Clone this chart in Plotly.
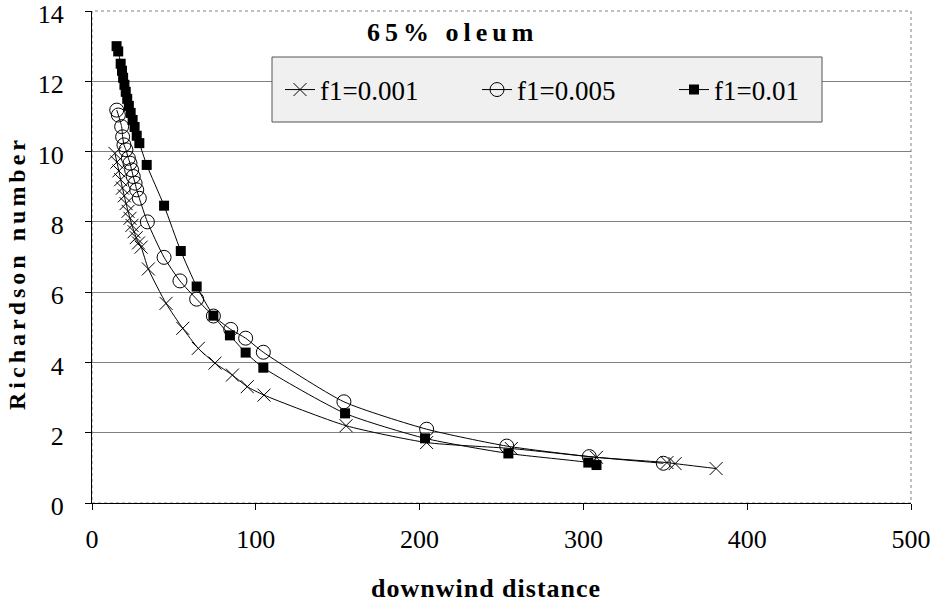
import plotly.graph_objects as go

# f1 = 0.001 (x markers)
x_001 = [14.0, 15.2, 16.4, 17.5, 18.6, 19.7, 20.8, 22.0, 23.2, 24.4, 25.7, 27.0, 28.4, 30.0,
         34.4, 45.2, 55.4, 64.9, 75.1, 85.7, 94.8, 105.0, 155.1, 204.3, 256.0, 308.0, 351.0, 356.0, 381.0]
y_001 = [9.95, 9.70, 9.45, 9.20, 8.96, 8.74, 8.52, 8.30, 8.10, 7.90, 7.72, 7.55, 7.40, 7.28,
         6.66, 5.68, 4.97, 4.40, 3.98, 3.64, 3.31, 3.07, 2.20, 1.72, 1.55, 1.30, 1.15, 1.12, 0.98]

# f1 = 0.005 (open circles)
x_005 = [15.1, 16.1, 18.1, 18.7, 19.5, 20.7, 22.2, 23.2, 24.2, 25.2, 26.3, 27.3, 28.9,
         33.8, 44.0, 53.7, 63.9, 74.1, 84.7, 93.8, 104.6, 153.8, 204.3, 253.2, 303.6, 348.8]
y_005 = [11.18, 11.04, 10.71, 10.42, 10.19, 10.05, 9.81, 9.67, 9.48, 9.29, 9.10, 8.91, 8.67,
         8.00, 6.99, 6.32, 5.80, 5.32, 4.94, 4.69, 4.29, 2.88, 2.10, 1.62, 1.32, 1.13]

# f1 = 0.01 (filled squares)
x_01 = [15.0, 16.0, 17.5, 18.3, 19.0, 19.8, 20.6, 21.5, 22.5, 23.6, 24.8, 26.0, 27.3, 28.9,
        33.4, 44.0, 54.2, 63.9, 74.1, 84.2, 93.8, 104.6, 154.5, 203.3, 254.2, 303.0, 308.0]
y_01 = [13.0, 12.85, 12.5, 12.3, 12.1, 11.9, 11.7, 11.5, 11.3, 11.1, 10.9, 10.7, 10.45, 10.24,
        9.62, 8.46, 7.17, 6.16, 5.33, 4.77, 4.28, 3.85, 2.55, 1.84, 1.41, 1.15, 1.08]

series_names = ["f1=0.001", "f1=0.005", "f1=0.01"]
x_ticks = [0, 100, 200, 300, 400, 500]
y_ticks = [0, 2, 4, 6, 8, 10, 12, 14]
chart_title = "65% oleum"
x_title = "downwind distance"
y_title = "Richardson number"

SERIF = "Liberation Serif"

fig = go.Figure()
fig.add_trace(go.Scatter(
    x=x_001, y=y_001, name=series_names[0], mode="lines+markers",
    line=dict(color="black", width=1, shape="spline", smoothing=0.6),
    marker=dict(symbol="x-thin", size=13, color="black", line=dict(color="black", width=1)),
))
fig.add_trace(go.Scatter(
    x=x_005, y=y_005, name=series_names[1], mode="lines+markers",
    line=dict(color="black", width=1, shape="spline", smoothing=0.6),
    marker=dict(symbol="circle-open", size=14, color="black", line=dict(color="black", width=1)),
))
fig.add_trace(go.Scatter(
    x=x_01, y=y_01, name=series_names[2], mode="lines+markers",
    line=dict(color="black", width=1, shape="spline", smoothing=0.6),
    marker=dict(symbol="square", size=10, color="black"),
))

# plot area in px: left 92, right 911, top 11, bottom 503 (819 x 492)
def px_x(p):
    return (p - 92) / 819.0

def px_y(p):
    return (503 - p) / 492.0

fig.update_layout(
    width=944, height=604,
    margin=dict(l=92, r=33, t=11, b=101, autoexpand=False),
    paper_bgcolor="white", plot_bgcolor="white",
    font=dict(family=SERIF, color="black", size=24),
    showlegend=True,
    legend=dict(
        orientation="h", x=px_x(280), y=px_y(90), xanchor="left", yanchor="middle",
        bgcolor="rgba(0,0,0,0)", borderwidth=0,
        font=dict(family=SERIF, size=27, color="black"),
        entrywidth=152, itemwidth=30, tracegroupgap=0,
    ),
    annotations=[
        dict(text="<b><span style='letter-spacing:5px'>" + chart_title + "</span></b>",
             x=px_x(452), y=px_y(33), xref="paper", yref="paper",
             xanchor="center", yanchor="middle",
             showarrow=False, font=dict(family=SERIF, size=26, color="black")),
        dict(text="<b><span style='letter-spacing:1px'>" + x_title + "</span></b>",
             x=px_x(486), y=px_y(588), xref="paper", yref="paper",
             xanchor="center", yanchor="middle",
             showarrow=False, font=dict(family=SERIF, size=26, color="black")),
        dict(text="<b><span style='letter-spacing:4px'>" + y_title + "</span></b>",
             x=px_x(17), y=px_y(273), xref="paper", yref="paper",
             xanchor="center", yanchor="middle", textangle=-90,
             showarrow=False, font=dict(family=SERIF, size=24, color="black")),
    ],
    shapes=[
        dict(type="rect", xref="paper", yref="paper", x0=0, x1=1, y0=0, y1=1,
             line=dict(color="#808080", width=1, dash="dot"), layer="below"),
        dict(type="rect", xref="paper", yref="paper",
             x0=px_x(272), x1=px_x(822), y0=px_y(122), y1=px_y(57),
             fillcolor="#f0f0f0", line=dict(color="#555555", width=1), layer="above"),
    ],
)

fig.update_xaxes(
    range=[0, 500], tickvals=x_ticks, ticktext=[str(v) for v in x_ticks],
    showline=True, linecolor="black", linewidth=1,
    ticks="outside", ticklen=6, tickcolor="black",
    showgrid=False, zeroline=False, automargin=False,
    tickfont=dict(family=SERIF, size=26),
    ticklabelstandoff=7,
)
fig.update_yaxes(
    range=[0, 14.0001], tickvals=y_ticks, ticktext=[str(v) for v in y_ticks],
    showline=True, linecolor="black", linewidth=1,
    ticks="outside", ticklen=6, tickcolor="black",
    showgrid=True, gridcolor="#808080", gridwidth=1, zeroline=False, automargin=False,
    tickfont=dict(family=SERIF, size=26),
    ticklabelstandoff=16, ticklabeloverflow="allow", ticklabelshift=3,
)

fig.write_html("out.html")
